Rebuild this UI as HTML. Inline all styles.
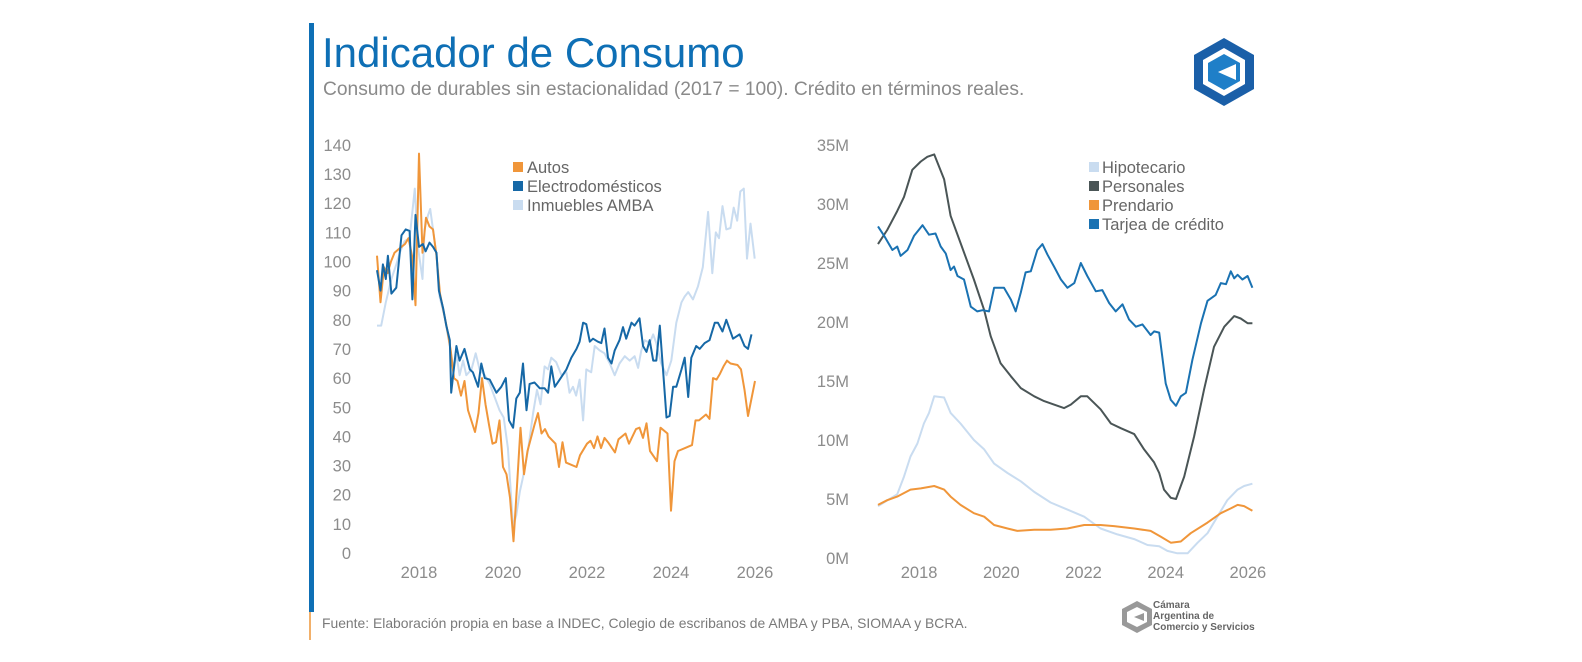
<!DOCTYPE html>
<html><head><meta charset="utf-8"><style>
html,body{margin:0;padding:0;background:#fff;}
body{width:1582px;height:662px;position:relative;overflow:hidden;font-family:"Liberation Sans",sans-serif;}
.t{position:absolute;white-space:nowrap;}
</style></head><body>
<div style="position:absolute;left:309px;top:23px;width:5px;height:589px;background:#0e6fb5"></div>
<div style="position:absolute;left:309px;top:612px;width:2px;height:28px;background:#f2b06a"></div>
<div class="t" style="left:322px;top:29px;font-size:42px;color:#0e6fb5;">Indicador de Consumo</div>
<div class="t" style="left:323px;top:79px;font-size:19.2px;color:#8a8a8a;">Consumo de durables sin estacionalidad (2017 = 100). Crédito en términos reales.</div>
<div class="t" style="left:322px;top:615px;font-size:13.9px;color:#7a7a7a;">Fuente: Elaboración propia en base a INDEC, Colegio de escribanos de AMBA y PBA, SIOMAA y BCRA.</div>
<svg style="position:absolute;left:1190px;top:36px" width="68" height="72" viewBox="0 0 68 72">
<polygon points="34,2 64,19 64,53 34,70 4,53 4,19" fill="#1a5fa8"/>
<polygon points="34,12 55,24 55,48 34,60 13,48 13,24" fill="#fff"/>
<polygon points="34,18 50,27 50,45 34,54 18,45 18,27" fill="#1f7fc8"/>
<polygon points="46,28 46,44 28,36" fill="#fff"/>
</svg>
<svg style="position:absolute;left:1120px;top:600px" width="34" height="34" viewBox="0 0 34 34">
<polygon points="17,1 32,9 32,25 17,33 2,25 2,9" fill="#999"/>
<polygon points="17,7 27,12 27,22 17,27 7,22 7,12" fill="#fff"/>
<polygon points="24,13 24,21 14,17" fill="#999"/>
</svg>
<div class="t" style="left:1153px;top:600px;font-size:10px;line-height:11px;color:#666;font-weight:bold;">Cámara<br>Argentina de<br>Comercio y Servicios</div>

<svg id="chart" width="1582" height="662" style="position:absolute;left:0;top:0"></svg>
<script>
// ---- Left chart data (month index from Jan 2017) ----
const leftYTicks=[140,130,120,110,100,90,80,70,60,50,40,30,20,10,0];
const leftXTicks=[2018,2020,2022,2024,2026];
const autosM=[0,1,2,3,4,5,6,8,9,10,11,12,13,14,15,16,17,18,19,20,21,22,23,24,25,26,28,29,30,31,32,33,34,35,36,37,38,39,40,41,42,43,45,46,47,48,49,51,52,53,54,55,57,58,60,61,62,63,64,65,66,68,69,71,72,74,75,76,77,78,80,81,83,84,85,86,88,90,91,92,94,95,96,97,98,99,100,101,103,104,105,106,108];
const autosV=[102,86,98,96,100,103,104,106,108,102,85,137,103,115,112,111,102,89,83,77,70,60,59,54,59,49,41.5,48,60,51,44,37.5,38,45.5,29.5,27,19,4,23,43,27,35,44,48,41,42.5,40,37.5,29.5,38,31,30.5,29.5,33.5,37.5,38.5,36,40,36,39.5,38,34.5,39,41,37.5,42.5,43,39.5,44.5,35,31.5,43,41,14.5,31.5,35,36,37,45.5,45.5,47.5,46,60,59.5,61.5,64,66,65,64.5,63,56,47,59];
const electroM=[0,1,1.7,2.5,3.1,4.1,5.5,7,8.2,9.3,10.1,11,12,13.1,13.9,15,16,17,17.7,18.9,19.8,20.8,21.2,22.7,23.6,25,26.5,27.4,28.9,29.8,30.8,32.2,34.1,35.5,36.8,37.7,38.9,39.8,40.8,41.7,42.7,43.6,45,46.5,47.9,48.9,49.8,50.8,52.2,54.1,55.5,57,57.9,58.9,59.8,60.8,61.7,63.1,64.1,65,66,67,67.9,69.3,70.3,71.2,72.7,73.6,75,76,77,77.9,78.9,79.8,80.8,81.7,82.7,83.6,84.6,85.5,87,87.9,88.9,89.8,91.2,92.2,93.6,95,96.5,97.4,98.7,99.8,101.7,103.6,105,106,107];
const electroV=[97,90,99,94,102,89,91,109,111,110.5,87,116,105,106,103.5,106.5,105,103,90,84,78,73,55,71,66,70,63,62,57,65,60,59.5,55,57,60,45.5,43,53,55,65,49,58,58.5,56.5,56.5,55,64,57,59.5,63,67,70,72.5,79,78.5,72.5,73.5,72.5,72,77,67,65,69.5,73,77.5,73.5,79,78,80.5,71,69,73,66,66,78,63,46.5,47,57,57,63,67,53.5,67,71,70,72,73,79,79,76,80,73.5,75,71,70,75];
const inmM=[0,1.2,2.5,4.1,5.5,6.5,7.9,9.3,10.8,11.7,13,13.6,14.6,15.2,16,17,17.9,19.3,20.8,21.9,22.7,23.6,24.6,25.5,27,28.2,29.3,30.8,32.2,33.6,35,36.2,37.4,38.9,39.8,40.8,41.7,43.1,44.6,45.7,46.7,47.9,48.9,49.8,51.2,52.7,54.1,55,56,56.9,57.9,58.9,59.8,61.2,62.2,63.6,65,66.5,67.9,69.3,70.8,72.2,73.6,74.6,75.5,76.5,77.9,78.9,79.8,81.2,82.7,84.1,85.5,87,87.9,88.9,90.3,91.7,93.1,94.6,95.8,96.8,97.7,98.7,99.8,101,101.9,102.9,103.8,104.8,105.7,106.7,107.9];
const inmV=[78,78,86,94,99,103,107,108,125,105,94,111,116,118,111,102,88,81,71,63,68,61,66,61,63,68.5,63,61,58,53.5,49,46.5,36,9,13,21,26,35,48,56,51,64,63,67,65.5,61,62,55,57,54,59.5,45.5,63,62,71,69.5,68.5,65,61,65,67.5,66,67.5,63.5,69.5,73,72,75,72,65,61,66,79,86,88,89.5,87,91.5,98,117,96,110,108,119,111,111.5,118.5,114,124,125,101,113,101];

// ---- Right chart data (millions) ----
const rightYTicks=[35,30,25,20,15,10,5,0];
const rightXTicks=[2018,2020,2022,2024,2026];
const hipoM=[0,5.6,7.6,9.5,11.5,13.4,14.9,16.4,19.3,21.2,24.1,28,31,33.9,37.8,41.7,45.6,50.4,55.3,60.2,65,69.9,74.8,78.7,82.1,84.5,87.4,90.4,93.3,96.2,99.1,102,105,106.9,109.3];
const hipoV=[4.4,5.4,6.9,8.6,9.7,11.4,12.3,13.7,13.6,12.3,11.4,10,9.2,8,7.2,6.5,5.6,4.7,4.1,3.5,2.5,2,1.6,1.1,1,0.6,0.4,0.4,1.3,2.1,3.5,4.9,5.8,6.1,6.3];
const prendM=[0,2.7,5.6,9.5,12.5,16.4,19.3,21.2,24.1,28,31,33.9,37.8,40.7,45.6,50.4,55.3,60.2,65,68.9,74.8,79.6,82.6,85.5,88.4,91.3,96.2,100.1,103,105,106.9,109.3];
const prendV=[4.5,4.9,5.2,5.8,5.9,6.1,5.8,5.2,4.5,3.8,3.5,2.8,2.5,2.3,2.4,2.4,2.5,2.8,2.8,2.7,2.5,2.3,1.8,1.3,1.4,2.1,3,3.8,4.2,4.5,4.4,4];
const persM=[0,2.7,5.6,7.6,10,12.5,14.4,16.4,19.3,21.2,24.1,28,31,32.9,35.8,38.8,41.7,45.6,48.5,51.4,54.3,56.3,59.2,61.1,65,68,70.9,74.8,77.7,80.6,82.1,83.5,85.5,87,89.4,92.3,95.2,98.1,101.1,104,105.9,107.9,109.3];
const persV=[26.6,27.8,29.4,30.6,32.9,33.6,34,34.2,32.1,29,26.7,23.6,21,18.8,16.5,15.4,14.4,13.7,13.3,13,12.7,13,13.7,13.7,12.6,11.4,11,10.5,9.2,8.1,7.2,5.8,5.1,5,6.9,10.3,14.3,17.9,19.6,20.5,20.3,19.9,19.9];
const tarjM=[0,1.8,4.2,5.6,6.6,8.6,10.5,13,14.9,16.8,18.3,19.8,21.2,22.2,23.2,25.1,27.1,29,30.5,32.4,33.9,36.8,38.8,40.2,41.7,43.1,44.6,46.5,48,49.5,51.4,53.4,55.3,57.3,59.2,61.1,63.6,65.5,67.5,69.4,71.4,73.3,75.3,77.2,79.6,80.6,82.1,84,85.5,87,88.4,89.9,91.8,94.3,96.2,98.6,100.1,101.6,103,104,105,106.4,107.9,109.3];
const tarjV=[28.1,27.3,26.1,26.4,25.6,26.1,27.3,28.2,27.4,27.5,26.4,25.8,24.4,24.7,23.9,23.6,21.3,20.9,21,20.9,22.9,22.9,21.9,20.9,22.5,24.2,24.3,26.1,26.6,25.7,24.7,23.6,22.9,23.3,25,23.9,22.6,22.7,21.6,20.9,21.5,20.2,19.6,19.8,18.9,19.2,19.1,14.8,13.4,12.9,13.7,14,16.8,19.9,21.8,22.3,23.3,23.2,24.3,23.7,24,23.6,23.9,22.9];

const NS='http://www.w3.org/2000/svg';
const svg=document.getElementById('chart');
function mk(tag,attrs,parent){const e=document.createElementNS(NS,tag);for(const k in attrs)e.setAttribute(k,attrs[k]);(parent||svg).appendChild(e);return e;}

// axis functions
const lx=m=>377+m*3.5, lxy=y=>377+(y-2017)*42;
const ly=v=>553-v*2.915;
const rx=m=>878+m*3.425, rxy=y=>878+(y-2017)*41.1;
const ry=v=>558-v*11.8;

function line(ms,vs,fx,fy,color,w,name){
  let d='';
  for(let i=0;i<ms.length;i++){d+=(i?'L':'M')+fx(ms[i]).toFixed(1)+','+fy(vs[i]).toFixed(1);}
  const p=mk('path',{d:d,fill:'none',stroke:color,'stroke-width':w,'stroke-linejoin':'round'});
  
  
}
function text(x,y,s,anchor,size,color,name){
  const t=mk('text',{x:x,y:y,'text-anchor':anchor,'font-size':size,fill:color,'font-family':'Liberation Sans, sans-serif'});
  t.textContent=s;
  
  
}

// left axes
leftYTicks.forEach(v=>text(351,ly(v)+6,String(v),'end',16.5,'#8c8c8c','left-y-tick'));
leftXTicks.forEach(y=>text(lxy(y),578,String(y),'middle',16.5,'#8c8c8c','left-x-tick'));
line(inmM,inmV,lx,ly,'#c9dcf0',2,'series-inmuebles');
line(autosM,autosV,lx,ly,'#f0963a',2,'series-autos');
line(electroM,electroV,lx,ly,'#1668a6',2,'series-electrodomesticos');

// right axes
rightYTicks.forEach(v=>text(849,ry(v)+6,v+'M','end',16.5,'#8c8c8c','right-y-tick'));
rightXTicks.forEach(y=>text(rxy(y),578,String(y),'middle',16.5,'#8c8c8c','right-x-tick'));
line(hipoM,hipoV,rx,ry,'#c9dcf0',2,'series-hipotecario');
line(prendM,prendV,rx,ry,'#f0963a',2,'series-prendario');
line(persM,persV,rx,ry,'#4a5556',2,'series-personales');
line(tarjM,tarjV,rx,ry,'#1a72b2',2,'series-tarjeta');

// legends
const leftLegend=[['Autos','#f0963a'],['Electrodomésticos','#1668a6'],['Inmuebles AMBA','#c9dcf0']];
leftLegend.forEach((l,i)=>{
  const r=mk('rect',{x:513,y:162+i*19,width:10,height:10,fill:l[1]});
  
  
  text(527,173+i*19,l[0],'start',16.5,'#666','left-legend-entry');
});
const rightLegend=[['Hipotecario','#c9dcf0'],['Personales','#4a5556'],['Prendario','#f0963a'],['Tarjea de crédito','#1a72b2']];
rightLegend.forEach((l,i)=>{
  const r=mk('rect',{x:1089,y:162+i*19,width:10,height:10,fill:l[1]});
  
  
  text(1102,173+i*19,l[0],'start',16.5,'#666','right-legend-entry');
});
</script>
</body></html>
